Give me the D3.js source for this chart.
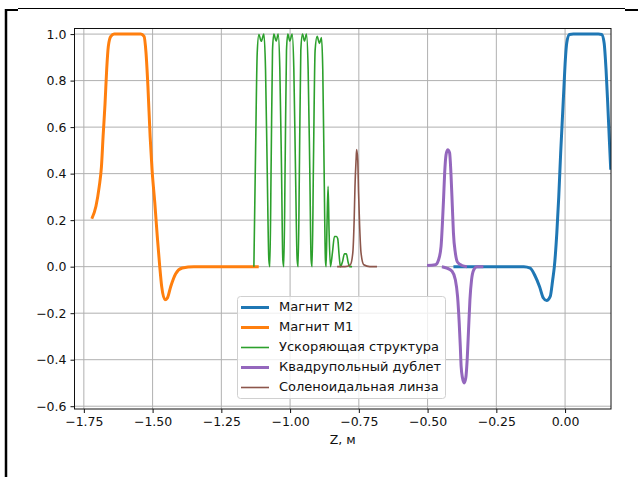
<!DOCTYPE html>
<html>
<head>
<meta charset="utf-8">
<script src="https://cdn.jsdelivr.net/npm/d3@7"></script>
<style>
  html, body { margin: 0; padding: 0; background: #fff; }
  svg { display: block; }
  text { font-family: "DejaVu Sans", sans-serif; fill: #111; }
</style>
</head>
<body>
<svg id="chart" width="638" height="477"></svg>
<script>
// Field profiles along the beamline, normalised to 1 (z in metres)

// Magnet M2 (right end)
const magnetM2 = [
  [-0.406, 0.0], [-0.30, 0.0], [-0.20, 0.0], [-0.15, 0.0], [-0.127, -0.006], [-0.109, -0.04],
  [-0.093, -0.085], [-0.079, -0.135], [-0.067, -0.146], [-0.054, -0.128], [-0.045, -0.056],
  [-0.039, 0.0], [-0.030, 0.145], [-0.023, 0.30], [-0.016, 0.49], [-0.010, 0.632],
  [-0.004, 0.775], [0.001, 0.89], [0.006, 0.962], [0.016, 0.998], [0.030, 1.0],
  [0.121, 1.0], [0.133, 0.998], [0.142, 0.962], [0.149, 0.847], [0.155, 0.704],
  [0.161, 0.546], [0.166, 0.417]
];

// Magnet M1 (left end)
const magnetM1 = [
  [-1.721, 0.206], [-1.706, 0.26], [-1.694, 0.345], [-1.686, 0.43], [-1.680, 0.56],
  [-1.673, 0.70], [-1.667, 0.847], [-1.661, 0.947], [-1.652, 0.99], [-1.640, 1.0],
  [-1.543, 1.0], [-1.531, 0.99], [-1.524, 0.92], [-1.517, 0.775], [-1.509, 0.56],
  [-1.502, 0.417], [-1.492, 0.275], [-1.483, 0.13], [-1.474, 0.0], [-1.467, -0.085],
  [-1.455, -0.142], [-1.446, -0.134], [-1.434, -0.085], [-1.416, -0.03], [-1.392, -0.006],
  [-1.35, 0.0], [-1.25, 0.0], [-1.114, 0.0]
];

// Accelerating structure: five cells plus the decaying tail
const accelerator = [
  [-1.1317, 0.0], [-1.1256, 0.49], [-1.1195, 0.92], [-1.1135, 0.998], [-1.1050, 0.969],
  [-1.0953, 1.0], [-1.0893, 0.847], [-1.0832, 0.417], [-1.0772, 0.03], [-1.0736, 0.0],
  [-1.0688, 0.45], [-1.0639, 0.93], [-1.0591, 1.0], [-1.0506, 0.97], [-1.0433, 1.0],
  [-1.0373, 0.85], [-1.0312, 0.42], [-1.0264, 0.03], [-1.0228, 0.0],
  [-1.0179, 0.45], [-1.0131, 0.93], [-1.0082, 1.0], [-1.0010, 0.97], [-0.9925, 1.0],
  [-0.9864, 0.85], [-0.9804, 0.42], [-0.9743, 0.03], [-0.9707, 0.0],
  [-0.9659, 0.45], [-0.9610, 0.93], [-0.9550, 1.0], [-0.9477, 0.97], [-0.9405, 1.0],
  [-0.9344, 0.85], [-0.9284, 0.42], [-0.9235, 0.03], [-0.9199, 0.0],
  [-0.9150, 0.45], [-0.9090, 0.93], [-0.9017, 0.99], [-0.8933, 0.96], [-0.8860, 0.985],
  [-0.8812, 0.85], [-0.8763, 0.42], [-0.8715, 0.03], [-0.8691, 0.0],
  [-0.8654, 0.20], [-0.8618, 0.345], [-0.8582, 0.15], [-0.8533, 0.0],
  [-0.8460, 0.06], [-0.8388, 0.13], [-0.8315, 0.13], [-0.8267, 0.12], [-0.8218, 0.05],
  [-0.8170, 0.0], [-0.8097, 0.02], [-0.8025, 0.055], [-0.7952, 0.055], [-0.7891, 0.02],
  [-0.7831, 0.0], [-0.7746, 0.0]
];

// Quadrupole doublet: focusing and defocusing lenses
const quadFirst = [
  [-0.502, 0.005], [-0.472, 0.008], [-0.460, 0.03], [-0.451, 0.087], [-0.446, 0.188],
  [-0.442, 0.288], [-0.438, 0.40], [-0.433, 0.48], [-0.427, 0.503], [-0.420, 0.49],
  [-0.415, 0.40], [-0.410, 0.26], [-0.406, 0.145], [-0.399, 0.059], [-0.391, 0.019],
  [-0.375, 0.005], [-0.357, 0.0]
];
const quadSecond = [
  [-0.448, 0.0], [-0.430, -0.006], [-0.411, -0.02], [-0.399, -0.056], [-0.391, -0.128],
  [-0.385, -0.242], [-0.381, -0.343], [-0.378, -0.429], [-0.373, -0.479], [-0.367, -0.50],
  [-0.361, -0.478], [-0.356, -0.40], [-0.351, -0.271], [-0.346, -0.142], [-0.340, -0.056],
  [-0.333, -0.016], [-0.321, 0.0], [-0.297, 0.0]
];

// Solenoid lens
const solenoid = [
  [-0.829, 0.0], [-0.800, 0.0], [-0.781, 0.008], [-0.772, 0.059], [-0.767, 0.20],
  [-0.764, 0.345], [-0.760, 0.46], [-0.758, 0.503], [-0.754, 0.46], [-0.751, 0.317],
  [-0.747, 0.173], [-0.742, 0.059], [-0.732, 0.008], [-0.710, 0.0], [-0.684, 0.0]
];

const xTicks = [-1.75, -1.5, -1.25, -1.0, -0.75, -0.5, -0.25, 0.0];
const yTicks = [-0.6, -0.4, -0.2, 0.0, 0.2, 0.4, 0.6, 0.8, 1.0];

const legendLabels = ["Магнит M2", "Магнит M1", "Ускоряющая структура", "Квадрупольный дублет", "Соленоидальная линза"];
const legendColors = ["#1f77b4", "#ff7f0e", "#2ca02c", "#9467bd", "#8c564b"];
const legendWidths = [3, 3, 1.6, 3, 1.6];

const svg = d3.select("#chart");
const plot = { left: 74.5, right: 611, top: 28.5, bottom: 409 };

const x = d3.scaleLinear().domain([-1.784, 0.167]).range([plot.left, plot.right]);
const y = d3.scaleLinear().domain([-0.612, 1.024]).range([plot.bottom, plot.top]);

// page frame
svg.append("line").attr("x1", 18).attr("x2", 625).attr("y1", 8.5).attr("y2", 8.5)
  .attr("stroke", "#000").attr("stroke-width", 1);
svg.append("line").attr("x1", 5).attr("x2", 18).attr("y1", 10).attr("y2", 10)
  .attr("stroke", "#000").attr("stroke-width", 2);
svg.append("line").attr("x1", 625).attr("x2", 638).attr("y1", 10).attr("y2", 10)
  .attr("stroke", "#000").attr("stroke-width", 2);
svg.append("line").attr("x1", 6).attr("x2", 6).attr("y1", 9).attr("y2", 477)
  .attr("stroke", "#000").attr("stroke-width", 2.5);

// grid
const grid = svg.append("g");
grid.selectAll(".gx").data(xTicks).enter().append("line")
  .attr("x1", d => x(d)).attr("x2", d => x(d)).attr("y1", plot.top).attr("y2", plot.bottom)
  .attr("stroke", "#b0b0b0").attr("stroke-width", 1);
grid.selectAll(".gy").data(yTicks).enter().append("line")
  .attr("x1", plot.left).attr("x2", plot.right).attr("y1", d => y(d)).attr("y2", d => y(d))
  .attr("stroke", "#b0b0b0").attr("stroke-width", 1);

// curves
svg.append("clipPath").attr("id", "clip").append("rect")
  .attr("x", plot.left).attr("y", plot.top)
  .attr("width", plot.right - plot.left).attr("height", plot.bottom - plot.top);

const line = d3.line().x(d => x(d[0])).y(d => y(d[1])).curve(d3.curveMonotoneX);
const curves = svg.append("g").attr("clip-path", "url(#clip)");
const series = [
  { data: magnetM2, color: legendColors[0], w: legendWidths[0] },
  { data: magnetM1, color: legendColors[1], w: legendWidths[1] },
  { data: accelerator, color: legendColors[2], w: legendWidths[2] },
  { data: quadFirst, color: legendColors[3], w: legendWidths[3] },
  { data: quadSecond, color: legendColors[3], w: legendWidths[3] },
  { data: solenoid, color: legendColors[4], w: legendWidths[4] }
];
series.forEach(s => {
  curves.append("path").attr("d", line(s.data))
    .attr("fill", "none").attr("stroke", s.color).attr("stroke-width", s.w)
    .attr("stroke-linejoin", "round").attr("stroke-linecap", "butt");
});

// axes
const xAxis = svg.append("g").attr("transform", `translate(0,${plot.bottom})`)
  .call(d3.axisBottom(x).tickValues(xTicks).tickSize(4).tickPadding(4)
    .tickFormat(d => d3.format(".2f")(d).replace("-", "−")));
const yAxis = svg.append("g").attr("transform", `translate(${plot.left},0)`)
  .call(d3.axisLeft(y).tickValues(yTicks).tickSize(4).tickPadding(4)
    .tickFormat(d => d3.format(".1f")(d).replace("-", "−")));
[xAxis, yAxis].forEach(a => {
  a.select(".domain").remove();
  a.selectAll("text").attr("font-size", 12.5).attr("font-family", "DejaVu Sans").attr("fill", "#111");
  a.selectAll("line").attr("stroke", "#111");
});

// spines
svg.append("rect").attr("x", plot.left).attr("y", plot.top)
  .attr("width", plot.right - plot.left).attr("height", plot.bottom - plot.top)
  .attr("fill", "none").attr("stroke", "#111").attr("stroke-width", 1);

svg.append("text").attr("x", (plot.left + plot.right) / 2).attr("y", 440)
  .attr("text-anchor", "middle").attr("dominant-baseline", "middle")
  .attr("font-size", 12.5).text("Z, м");

// legend
const lg = svg.append("g");
lg.append("rect").attr("x", 237.5).attr("y", 296.5).attr("width", 208).attr("height", 102)
  .attr("rx", 3).attr("fill", "#fff").attr("fill-opacity", 0.8)
  .attr("stroke", "#d0d0d0").attr("stroke-width", 1);
legendLabels.forEach((lab, i) => {
  const cy = 307.5 + i * 20;
  lg.append("line").attr("x1", 241).attr("x2", 269).attr("y1", cy).attr("y2", cy)
    .attr("stroke", legendColors[i]).attr("stroke-width", legendWidths[i]);
  lg.append("text").attr("x", 279).attr("y", cy).attr("dominant-baseline", "middle")
    .attr("font-size", 13).text(lab);
});
</script>
</body>
</html>
